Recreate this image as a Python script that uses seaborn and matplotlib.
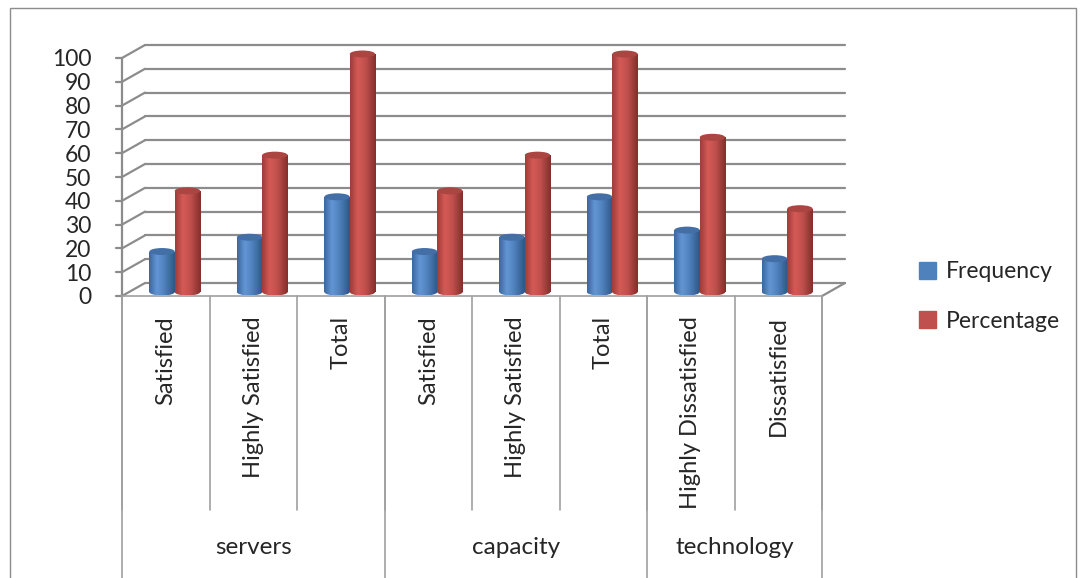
# -*- coding: utf-8 -*-
'''plot.py - frequency / percentage chart'''

import numpy as np
import pandas as pd
import matplotlib
matplotlib.use('Agg')
import matplotlib.pyplot as plt
import matplotlib.patches as mpatches
from matplotlib.colors import LinearSegmentedColormap
import seaborn as sns

groups = ['servers', 'capacity', 'technology']
group_sizes = [3, 3, 2]
categories = ['Satisfied', 'Highly Satisfied', 'Total',
              'Satisfied', 'Highly Satisfied', 'Total',
              'Highly Dissatisfied', 'Dissatisfied']
frequency = [17, 23, 40, 17, 23, 40, 26, 14]
percentage = [42.5, 57.5, 100, 42.5, 57.5, 100, 65, 35]
series = ['Frequency', 'Percentage']
colors = ['#4F81BD', '#C0504D']
# shading across a cylinder: edge, light, body, dark edge
shades = {'#4F81BD': ['#3B679E', '#6396D6', '#4F81BD', '#2E5685'],
          '#C0504D': ['#9E3C39', '#D65A56', '#C0504D', '#842E2B']}
caps = {'#4F81BD': '#436FA6', '#C0504D': '#AB4542'}


def main():
    sns.set_style('white')
    plt.rcParams['font.family'] = ['Lato', 'DejaVu Sans']

    # long table, slot keeps the duplicate labels apart
    rows = []
    for i, cat in enumerate(categories):
        rows.append({'slot': i, 'series': 'Frequency', 'value': frequency[i]})
        rows.append({'slot': i, 'series': 'Percentage', 'value': percentage[i]})
    df = pd.DataFrame(rows)

    fig = plt.figure(figsize=(10.82, 5.78), dpi=100)
    ax = fig.add_axes([122 / 1082, 1 - 296 / 578, 700 / 1082, 238 / 578])

    grey = '#8c8c8c'
    dx, dy = 23 / 700, 13 / 238
    # back wall grid + slanted side lines (fake 3d)
    for v in range(0, 101, 10):
        y = v / 100
        ax.plot([dx, 1 + dx], [y + dy, y + dy], color=grey, lw=1.6,
                transform=ax.transAxes, clip_on=False, zorder=0)
        ax.plot([-0.008, 0], [y, y], color=grey, lw=1.6,
                transform=ax.transAxes, clip_on=False, zorder=0)
        ax.plot([0, dx], [y, y + dy], color=grey, lw=1.6,
                transform=ax.transAxes, clip_on=False, zorder=0)
    ax.plot([0, 0], [0, 1], color=grey, lw=1.6, transform=ax.transAxes,
            clip_on=False, zorder=0)
    ax.plot([1, 1 + dx], [0, dy], color=grey, lw=1.6,
            transform=ax.transAxes, clip_on=False, zorder=0)

    sns.barplot(data=df, x='slot', y='value', hue='series', hue_order=series,
                palette=colors, width=0.58, gap=0.0, ax=ax, legend=False,
                saturation=1, zorder=3)

    ax.set_ylim(0, 100)
    ax.set_xlim(-0.5, len(categories) - 0.5)

    # turn the flat bars into shaded cylinders sitting a bit back
    shift_x = 9 / 87.5
    lift = 4 / 2.38
    cap_h = 7 / 2.38
    for p in list(ax.patches):
        if p.get_height() <= 0:
            continue
        col = matplotlib.colors.to_hex(p.get_facecolor())
        if col.upper() not in [c.upper() for c in colors]:
            continue
        key = [c for c in colors if c.upper() == col.upper()][0]
        p.set_x(p.get_x() + shift_x)
        p.set_y(lift)
        x0, w, h = p.get_x(), p.get_width(), p.get_height()
        p.set_facecolor('none')
        p.set_edgecolor('none')
        cmap = LinearSegmentedColormap.from_list(
            'cyl', list(zip([0, 0.3, 0.6, 1], shades[key])))
        grad = np.linspace(0, 1, 64).reshape(1, -1)
        im = ax.imshow(grad, extent=[x0, x0 + w, lift - cap_h / 2, lift + h],
                       aspect='auto', cmap=cmap, zorder=3, interpolation='bicubic')
        im.set_clip_path(p)
        bottom = mpatches.Ellipse((x0 + w / 2, lift), w, cap_h,
                                  facecolor='none', edgecolor='none')
        ax.add_patch(bottom)
        im2 = ax.imshow(grad, extent=[x0, x0 + w, lift - cap_h / 2, lift + h],
                        aspect='auto', cmap=cmap, zorder=3, interpolation='bicubic')
        im2.set_clip_path(bottom)
        ax.add_patch(mpatches.Ellipse((x0 + w / 2, lift + h), w, cap_h,
                                      facecolor=caps[key], edgecolor='none',
                                      zorder=4, clip_on=False))

    ax.set_ylim(0, 100)
    ax.set_xlim(-0.5, len(categories) - 0.5)
    ax.set_yticks(range(0, 101, 10))
    ax.set_yticklabels([str(v) for v in range(0, 101, 10)], fontsize=16.5)
    ax.tick_params(axis='y', length=0, pad=22)
    ax.set_xticks([])
    ax.set_xlabel('')
    ax.set_ylabel('')
    for s in ax.spines.values():
        s.set_visible(False)
    ax.patch.set_alpha(0)

    # category table under the plot
    n = len(categories)
    tbl = dict(transform=ax.transAxes, clip_on=False, color='#a0a0a0', lw=1.2)
    ax.plot([0, 1], [0, 0], **tbl)
    row_bottom = -(510 - 296) / 238
    fig_bottom = -(578 - 296) / 238
    for i in range(n + 1):
        ax.plot([i / n, i / n], [0, row_bottom], **tbl)
    edge = 0
    for g, size in zip(groups, group_sizes):
        ax.plot([edge / n, edge / n], [0, fig_bottom], **tbl)
        ax.text((edge + size / 2) / n, -(548 - 296) / 238, g, fontsize=17.5,
                ha='center', va='center', transform=ax.transAxes)
        edge += size
    ax.plot([1, 1], [0, fig_bottom], **tbl)
    for i, cat in enumerate(categories):
        ax.text((i + 0.5) / n, -20 / 238, cat, rotation=90, fontsize=17,
                ha='center', va='top', transform=ax.transAxes)

    handles = [mpatches.Patch(color=c, label=s) for c, s in zip(colors, series)]
    fig.legend(handles=handles, loc='center left', bbox_to_anchor=(0.83, 0.487),
               frameon=False, fontsize=16.5, handlelength=0.75, handleheight=0.75,
               labelspacing=1.25, handletextpad=0.45)

    # outer chart border
    fig.patches.append(mpatches.Rectangle((10 / 1082, -0.01), 1066 / 1082, 1 - 8 / 578 + 0.01,
                                          transform=fig.transFigure, fill=False,
                                          edgecolor='#8c8c8c', lw=1))

    fig.savefig('out.png', dpi=100)


if __name__ == '__main__':
    main()
